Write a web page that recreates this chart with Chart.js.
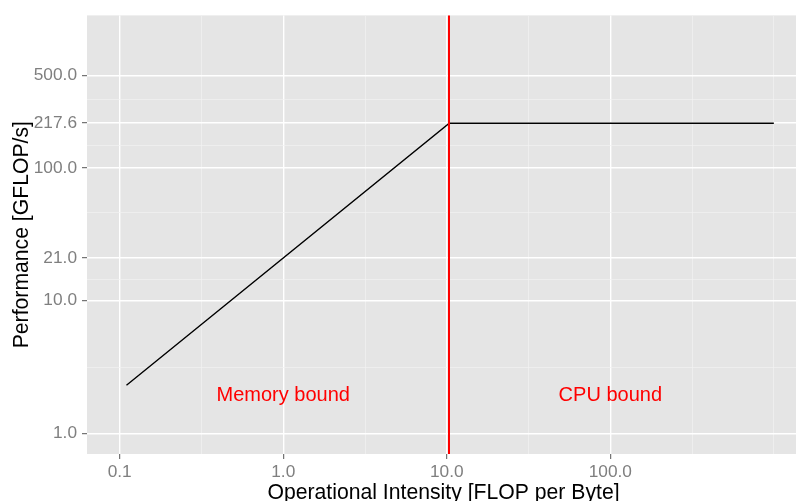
<!DOCTYPE html>
<html lang="en">
<head>
<meta charset="UTF-8">
<title>Roofline</title>
<script src="https://cdn.jsdelivr.net/npm/chart.js"></script>
<style>
  html, body { margin: 0; padding: 0; background: #fff; overflow: hidden; width: 796px; height: 501px; }
  canvas { display: block; }
</style>
</head>
<body>
<canvas id="roof" width="804" height="506"></canvas>
<script>
  // roofline: memory slope up to the ridge, then flat at peak
  const intensity = [0.11, 10.36, 1000];
  const performance = [2.31, 217.6, 217.6];
  const ridge = 10.36;

  const xTicks = [0.1, 1, 10, 100];
  const xTickLabels = ['0.1', '1.0', '10.0', '100.0'];
  const yTicks = [1, 10, 21, 100, 217.6, 500];
  const yTickLabels = ['1.0', '10.0', '21.0', '100.0', '217.6', '500.0'];

  const regionLabels = ['Memory bound', 'CPU bound'];
  const regionX = [1, 100];
  const regionY = [2, 2];

  const FONT = '"Liberation Sans", Arial, sans-serif';

  // minor breaks halfway between majors in log space (ggplot style)
  function minorBreaks(majors, lo, hi) {
    const b = majors.map(Math.log10);
    const d = b[1] - b[0];
    const ext = [b[0] - d, ...b, b[b.length - 1] + d];
    const out = [];
    for (let i = 0; i < ext.length - 1; i++) {
      const m = (ext[i] + ext[i + 1]) / 2;
      if (m > lo && m < hi) out.push(Math.pow(10, m));
    }
    // the extended end break shows up as a minor line too
    const last = ext[ext.length - 1];
    if (last < hi && !majors.includes(Math.pow(10, last))) out.push(Math.pow(10, last));
    return out;
  }

  const xMinLog = -1.2, xMaxLog = 3.16;
  const yMinLog = -0.15, yMaxLog = 3.15;

  function setTicks(majors, lo, hi) {
    return scale => {
      const minors = minorBreaks(majors, lo, hi);
      scale.ticks = majors.map(v => ({ value: v }))
        .concat(minors.map(v => ({ value: v, minor: true })));
    };
  }

  Chart.register({
    id: 'panel',
    beforeDraw(chart) {
      const { ctx, chartArea: a } = chart;
      ctx.save();
      ctx.fillStyle = '#e5e5e5';
      ctx.fillRect(a.left, a.top, a.right - a.left, a.bottom - a.top);
      ctx.restore();
    },
    afterDatasetsDraw(chart) {
      const { ctx, chartArea: a, scales } = chart;
      ctx.save();
      const rx = Math.round(scales.x.getPixelForValue(ridge));
      ctx.strokeStyle = '#ff0000';
      ctx.lineWidth = 2;
      ctx.beginPath();
      ctx.moveTo(rx, a.top);
      ctx.lineTo(rx, a.bottom);
      ctx.stroke();

      ctx.fillStyle = '#ff0000';
      ctx.font = '20px ' + FONT;
      ctx.textAlign = 'center';
      ctx.textBaseline = 'alphabetic';
      regionLabels.forEach((t, i) => {
        const px = scales.x.getPixelForValue(regionX[i]);
        const py = scales.y.getPixelForValue(regionY[i]);
        ctx.fillText(t, px, py + 20 * 0.358);
      });
      ctx.restore();
    }
  });

  const gridOpts = {
    color: c => (c.tick && c.tick.minor) ? '#f2f2f2' : '#ffffff',
    lineWidth: c => (c.tick && c.tick.minor) ? 0.7 : 1.4,
    tickColor: c => (c.tick && c.tick.minor) ? 'rgba(0,0,0,0)' : '#555555',
    tickWidth: 1,
    tickLength: 5
  };

  new Chart(document.getElementById('roof'), {
    type: 'scatter',
    data: {
      datasets: [{
        data: intensity.map((x, i) => ({ x: x, y: performance[i] })),
        showLine: true,
        borderColor: '#000000',
        borderWidth: 1.4,
        pointRadius: 0,
        tension: 0
      }]
    },
    options: {
      responsive: false,
      animation: false,
      devicePixelRatio: 1,
      layout: { padding: { top: 14, right: 4, left: 0, bottom: 0 } },
      plugins: { legend: { display: false }, tooltip: { enabled: false } },
      scales: {
        x: {
          type: 'logarithmic',
          min: Math.pow(10, xMinLog),
          max: Math.pow(10, xMaxLog),
          afterBuildTicks: setTicks(xTicks, xMinLog, xMaxLog),
          afterFit: s => { s.height = 52; },
          border: { display: false },
          grid: gridOpts,
          ticks: {
            autoSkip: false,
            maxRotation: 0,
            padding: 3,
            color: '#7f7f7f',
            font: { family: FONT, size: 17.3 },
            callback: function (v, i, ticks) {
              const k = xTicks.indexOf(ticks[i].value);
              return (ticks[i].minor || k < 0) ? '' : xTickLabels[k];
            }
          },
          title: {
            display: true,
            text: 'Operational Intensity [FLOP per Byte]',
            color: '#000000',
            font: { family: FONT, size: 21.2 },
            padding: { top: 0, bottom: 0 }
          }
        },
        y: {
          type: 'logarithmic',
          min: Math.pow(10, yMinLog),
          max: Math.pow(10, yMaxLog),
          afterBuildTicks: setTicks(yTicks, yMinLog, yMaxLog),
          afterFit: s => { s.width = 87; },
          border: { display: false },
          grid: gridOpts,
          ticks: {
            autoSkip: false,
            padding: 5,
            color: '#7f7f7f',
            font: { family: FONT, size: 17.3 },
            callback: function (v, i, ticks) {
              const k = yTicks.indexOf(ticks[i].value);
              return (ticks[i].minor || k < 0) ? '' : yTickLabels[k];
            }
          },
          title: {
            display: true,
            text: 'Performance [GFLOP/s]',
            color: '#000000',
            font: { family: FONT, size: 21.2 },
            padding: { top: 9, bottom: 0 }
          }
        }
      }
    }
  });
</script>
</body>
</html>
